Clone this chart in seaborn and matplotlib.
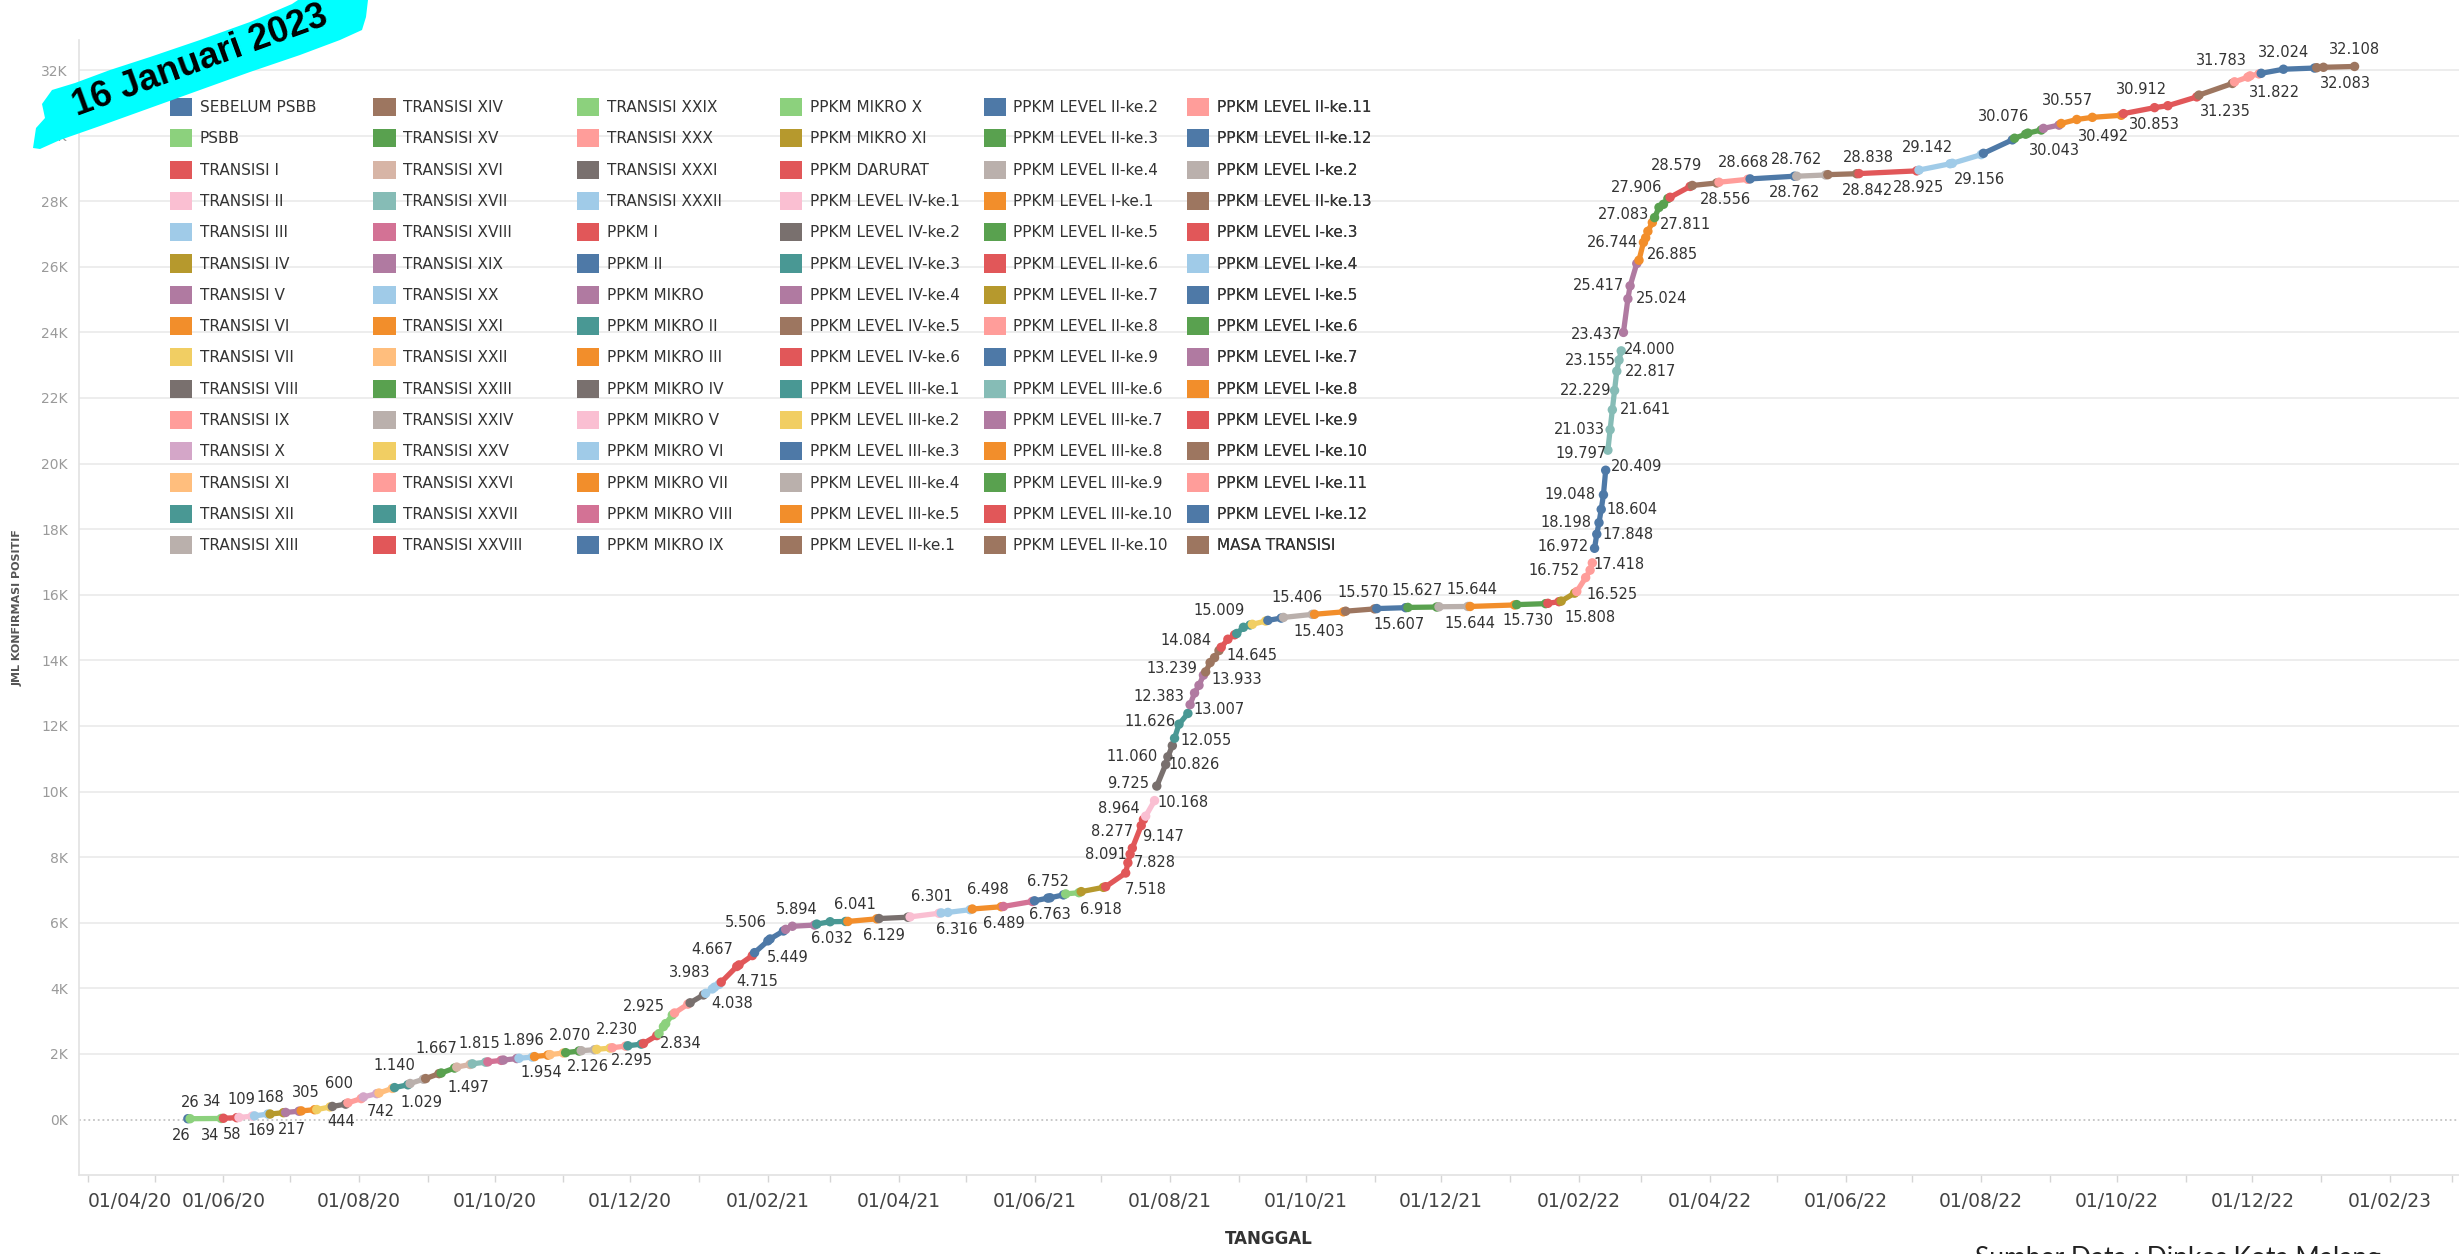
import matplotlib
matplotlib.use("agg")
import matplotlib.pyplot as plt
import matplotlib.dates as mdates
from matplotlib.patches import Patch, Polygon
from matplotlib.ticker import MultipleLocator, FuncFormatter
import seaborn as sns
import pandas as pd

# phases of restrictions (legend order = chronological order)
phases = [
    "SEBELUM PSBB", "PSBB",
    "TRANSISI I", "TRANSISI II", "TRANSISI III", "TRANSISI IV", "TRANSISI V", "TRANSISI VI",
    "TRANSISI VII", "TRANSISI VIII", "TRANSISI IX", "TRANSISI X", "TRANSISI XI", "TRANSISI XII",
    "TRANSISI XIII", "TRANSISI XIV", "TRANSISI XV", "TRANSISI XVI", "TRANSISI XVII", "TRANSISI XVIII",
    "TRANSISI XIX", "TRANSISI XX", "TRANSISI XXI", "TRANSISI XXII", "TRANSISI XXIII", "TRANSISI XXIV",
    "TRANSISI XXV", "TRANSISI XXVI", "TRANSISI XXVII", "TRANSISI XXVIII", "TRANSISI XXIX", "TRANSISI XXX",
    "TRANSISI XXXI", "TRANSISI XXXII",
    "PPKM I", "PPKM II", "PPKM MIKRO", "PPKM MIKRO II", "PPKM MIKRO III", "PPKM MIKRO IV",
    "PPKM MIKRO V", "PPKM MIKRO VI", "PPKM MIKRO VII", "PPKM MIKRO VIII", "PPKM MIKRO IX",
    "PPKM MIKRO X", "PPKM MIKRO XI", "PPKM DARURAT",
    "PPKM LEVEL IV-ke.1", "PPKM LEVEL IV-ke.2", "PPKM LEVEL IV-ke.3", "PPKM LEVEL IV-ke.4",
    "PPKM LEVEL IV-ke.5", "PPKM LEVEL IV-ke.6",
    "PPKM LEVEL III-ke.1", "PPKM LEVEL III-ke.2", "PPKM LEVEL III-ke.3", "PPKM LEVEL III-ke.4",
    "PPKM LEVEL III-ke.5",
    "PPKM LEVEL II-ke.1", "PPKM LEVEL II-ke.2", "PPKM LEVEL II-ke.3", "PPKM LEVEL II-ke.4",
    "PPKM LEVEL I-ke.1",
    "PPKM LEVEL II-ke.5", "PPKM LEVEL II-ke.6", "PPKM LEVEL II-ke.7", "PPKM LEVEL II-ke.8",
    "PPKM LEVEL II-ke.9",
    "PPKM LEVEL III-ke.6", "PPKM LEVEL III-ke.7", "PPKM LEVEL III-ke.8", "PPKM LEVEL III-ke.9",
    "PPKM LEVEL III-ke.10",
    "PPKM LEVEL II-ke.10", "PPKM LEVEL II-ke.11", "PPKM LEVEL II-ke.12", "PPKM LEVEL I-ke.2",
    "PPKM LEVEL II-ke.13",
    "PPKM LEVEL I-ke.3", "PPKM LEVEL I-ke.4", "PPKM LEVEL I-ke.5", "PPKM LEVEL I-ke.6",
    "PPKM LEVEL I-ke.7", "PPKM LEVEL I-ke.8", "PPKM LEVEL I-ke.9", "PPKM LEVEL I-ke.10",
    "PPKM LEVEL I-ke.11", "PPKM LEVEL I-ke.12",
    "MASA TRANSISI",
]

phase_starts = [
    "2020-05-16", "2020-05-17",
    "2020-06-01", "2020-06-08", "2020-06-15", "2020-06-22", "2020-06-29", "2020-07-06",
    "2020-07-13", "2020-07-20", "2020-07-27", "2020-08-03", "2020-08-10", "2020-08-17",
    "2020-08-24", "2020-08-31", "2020-09-07", "2020-09-14", "2020-09-21", "2020-09-28",
    "2020-10-05", "2020-10-12", "2020-10-19", "2020-10-26", "2020-11-02", "2020-11-09",
    "2020-11-16", "2020-11-23", "2020-11-30", "2020-12-07", "2020-12-14", "2020-12-21",
    "2020-12-28", "2021-01-04",
    "2021-01-11", "2021-01-26", "2021-02-09", "2021-02-23", "2021-03-09", "2021-03-23",
    "2021-04-06", "2021-04-20", "2021-05-04", "2021-05-18", "2021-06-01",
    "2021-06-15", "2021-06-22", "2021-07-03",
    "2021-07-21", "2021-07-26", "2021-08-03", "2021-08-10",
    "2021-08-17", "2021-08-24",
    "2021-08-31", "2021-09-07", "2021-09-14", "2021-09-21",
    "2021-10-05",
    "2021-10-19", "2021-11-02", "2021-11-16", "2021-11-30",
    "2021-12-14",
    "2022-01-04", "2022-01-18", "2022-01-24", "2022-01-31",
    "2022-02-08",
    "2022-02-14", "2022-02-21", "2022-02-28", "2022-03-07",
    "2022-03-14",
    "2022-03-24", "2022-04-05", "2022-04-19", "2022-05-10",
    "2022-05-24",
    "2022-06-07", "2022-07-04", "2022-08-02", "2022-08-16",
    "2022-08-29", "2022-09-06", "2022-10-04", "2022-11-07",
    "2022-11-23", "2022-12-05",
    "2022-12-30",
]

# cumulative confirmed cases (date, total)
cases_2020 = [
    ("2020-05-16", 26),
    ("2020-05-17", 26), ("2020-05-31", 34),
    ("2020-06-01", 40), ("2020-06-07", 58),
    ("2020-06-08", 65), ("2020-06-14", 105),
    ("2020-06-15", 112), ("2020-06-21", 168),
    ("2020-06-22", 169), ("2020-06-28", 210),
    ("2020-06-29", 217), ("2020-07-05", 255),
    ("2020-07-06", 265), ("2020-07-12", 300),
    ("2020-07-13", 305), ("2020-07-19", 385),
    ("2020-07-20", 400), ("2020-07-26", 470),
    ("2020-07-27", 510), ("2020-08-02", 640),
    ("2020-08-03", 690), ("2020-08-09", 790),
    ("2020-08-10", 810), ("2020-08-16", 950),
    ("2020-08-17", 975), ("2020-08-23", 1060),
    ("2020-08-24", 1100), ("2020-08-30", 1230),
    ("2020-08-31", 1250), ("2020-09-06", 1400),
    ("2020-09-07", 1420), ("2020-09-13", 1570),
    ("2020-09-14", 1600), ("2020-09-20", 1680),
    ("2020-09-21", 1700), ("2020-09-27", 1750),
    ("2020-09-28", 1760), ("2020-10-04", 1805),
    ("2020-10-05", 1815), ("2020-10-11", 1860),
    ("2020-10-12", 1870), ("2020-10-18", 1905),
    ("2020-10-19", 1920), ("2020-10-25", 1965),
    ("2020-10-26", 1980), ("2020-11-01", 2030),
    ("2020-11-02", 2040), ("2020-11-08", 2090),
    ("2020-11-09", 2100), ("2020-11-15", 2130),
    ("2020-11-16", 2140), ("2020-11-22", 2180),
    ("2020-11-23", 2190), ("2020-11-29", 2240),
    ("2020-11-30", 2250), ("2020-12-06", 2300),
    ("2020-12-07", 2320), ("2020-12-13", 2560),
    ("2020-12-14", 2620), ("2020-12-16", 2834), ("2020-12-17", 2925), ("2020-12-20", 3190),
    ("2020-12-21", 3250), ("2020-12-27", 3520),
    ("2020-12-28", 3560),
]

cases_2021 = [
    ("2021-01-03", 3800),
    ("2021-01-04", 3850), ("2021-01-07", 3983), ("2021-01-08", 4038), ("2021-01-10", 4120),
    ("2021-01-11", 4190), ("2021-01-18", 4667), ("2021-01-19", 4715), ("2021-01-25", 5000),
    ("2021-01-26", 5090), ("2021-02-01", 5449), ("2021-02-02", 5506), ("2021-02-08", 5750),
    ("2021-02-09", 5800), ("2021-02-12", 5894), ("2021-02-22", 5930),
    ("2021-02-23", 5960), ("2021-03-01", 6032), ("2021-03-08", 6040),
    ("2021-03-09", 6041), ("2021-03-22", 6120),
    ("2021-03-23", 6129), ("2021-04-05", 6170),
    ("2021-04-06", 6180), ("2021-04-19", 6290),
    ("2021-04-20", 6301), ("2021-04-23", 6316), ("2021-05-03", 6400),
    ("2021-05-04", 6420), ("2021-05-17", 6489),
    ("2021-05-18", 6498), ("2021-05-31", 6650),
    ("2021-06-01", 6670), ("2021-06-07", 6752), ("2021-06-08", 6763), ("2021-06-14", 6850),
    ("2021-06-15", 6880), ("2021-06-21", 6918),
    ("2021-06-22", 6950), ("2021-07-02", 7080),
    ("2021-07-03", 7100), ("2021-07-12", 7518), ("2021-07-13", 7828), ("2021-07-14", 8091),
    ("2021-07-15", 8277), ("2021-07-19", 8964), ("2021-07-20", 9147),
    ("2021-07-21", 9250), ("2021-07-25", 9725),
    ("2021-07-26", 10168), ("2021-07-30", 10826), ("2021-07-31", 11060), ("2021-08-02", 11400),
    ("2021-08-03", 11626), ("2021-08-05", 12055), ("2021-08-09", 12383),
    ("2021-08-10", 12650), ("2021-08-12", 13007), ("2021-08-14", 13239), ("2021-08-16", 13550),
    ("2021-08-17", 13650), ("2021-08-19", 13933), ("2021-08-21", 14084), ("2021-08-23", 14300),
    ("2021-08-24", 14400), ("2021-08-27", 14645), ("2021-08-30", 14780),
    ("2021-08-31", 14820), ("2021-09-03", 15009), ("2021-09-06", 15080),
    ("2021-09-07", 15100), ("2021-09-13", 15200),
    ("2021-09-14", 15220), ("2021-09-20", 15290),
    ("2021-09-21", 15310), ("2021-10-04", 15403),
    ("2021-10-05", 15406), ("2021-10-18", 15480),
    ("2021-10-19", 15500), ("2021-11-01", 15570),
    ("2021-11-02", 15580), ("2021-11-15", 15607),
    ("2021-11-16", 15615), ("2021-11-29", 15627),
    ("2021-11-30", 15635), ("2021-12-13", 15644),
    ("2021-12-14", 15644),
]

cases_2022 = [
    ("2022-01-03", 15690),
    ("2022-01-04", 15700), ("2022-01-17", 15730),
    ("2022-01-18", 15740), ("2022-01-23", 15790),
    ("2022-01-24", 15808), ("2022-01-30", 16050),
    ("2022-01-31", 16100), ("2022-02-04", 16525), ("2022-02-06", 16752), ("2022-02-07", 16972),
    ("2022-02-08", 17418), ("2022-02-09", 17848), ("2022-02-10", 18198), ("2022-02-11", 18604),
    ("2022-02-12", 19048), ("2022-02-13", 19797),
    ("2022-02-14", 20409), ("2022-02-15", 21033), ("2022-02-16", 21641), ("2022-02-17", 22229),
    ("2022-02-18", 22817), ("2022-02-19", 23155), ("2022-02-20", 23437),
    ("2022-02-21", 24000), ("2022-02-23", 25024), ("2022-02-24", 25417), ("2022-02-27", 26100),
    ("2022-02-28", 26200), ("2022-03-02", 26744), ("2022-03-03", 26885), ("2022-03-04", 27083),
    ("2022-03-06", 27350),
    ("2022-03-07", 27500), ("2022-03-09", 27811), ("2022-03-11", 27906), ("2022-03-13", 28080),
    ("2022-03-14", 28120), ("2022-03-23", 28450),
    ("2022-03-24", 28480), ("2022-04-04", 28556),
    ("2022-04-05", 28579), ("2022-04-18", 28668),
    ("2022-04-19", 28680), ("2022-05-09", 28762),
    ("2022-05-10", 28762), ("2022-05-23", 28800),
    ("2022-05-24", 28810), ("2022-06-06", 28838),
    ("2022-06-07", 28842), ("2022-07-03", 28925),
    ("2022-07-04", 28950), ("2022-07-18", 29142), ("2022-07-19", 29156), ("2022-08-01", 29420),
    ("2022-08-02", 29460), ("2022-08-15", 29870),
    ("2022-08-16", 29920), ("2022-08-21", 30043), ("2022-08-22", 30076), ("2022-08-28", 30170),
    ("2022-08-29", 30220), ("2022-09-05", 30320),
    ("2022-09-06", 30370), ("2022-09-13", 30492), ("2022-09-20", 30557), ("2022-10-03", 30620),
    ("2022-10-04", 30670), ("2022-10-18", 30853), ("2022-10-24", 30912), ("2022-11-06", 31180),
    ("2022-11-07", 31235), ("2022-11-22", 31590),
    ("2022-11-23", 31640), ("2022-11-29", 31783), ("2022-11-30", 31822), ("2022-12-04", 31880),
    ("2022-12-05", 31900), ("2022-12-15", 32024), ("2022-12-29", 32060),
    ("2022-12-30", 32070), ("2023-01-02", 32083), ("2023-01-16", 32108),
]

# value labels shown on the chart: (value, date of label, a=above / b=below / m=beside)
point_labels = [
    (26, "2020-05-17", "a"), (26, "2020-05-13", "b"), (34, "2020-05-27", "a"), (34, "2020-05-26", "b"),
    (58, "2020-06-05", "b"), (109, "2020-06-09", "a"), (169, "2020-06-18", "b"), (168, "2020-06-22", "a"),
    (217, "2020-07-02", "b"), (305, "2020-07-08", "a"), (600, "2020-07-23", "a"), (444, "2020-07-24", "b"),
    (742, "2020-08-11", "b"), (1140, "2020-08-17", "a"), (1029, "2020-08-29", "b"), (1667, "2020-09-05", "a"),
    (1497, "2020-09-19", "b"), (1815, "2020-09-24", "a"), (1896, "2020-10-14", "a"), (1954, "2020-10-22", "b"),
    (2070, "2020-11-04", "a"), (2126, "2020-11-12", "b"), (2230, "2020-11-25", "a"), (2295, "2020-12-02", "b"),
    (2925, "2020-12-07", "a"), (2834, "2020-12-24", "b"), (3983, "2020-12-28", "a"), (4038, "2021-01-16", "b"),
    (4667, "2021-01-07", "a"), (4715, "2021-01-27", "b"), (5506, "2021-01-22", "a"), (5449, "2021-02-10", "b"),
    (5894, "2021-02-14", "a"), (6032, "2021-03-02", "b"), (6041, "2021-03-12", "a"), (6129, "2021-03-25", "b"),
    (6301, "2021-04-16", "a"), (6316, "2021-04-27", "b"), (6498, "2021-05-11", "a"), (6489, "2021-05-18", "b"),
    (6752, "2021-06-07", "a"), (6763, "2021-06-08", "b"), (6918, "2021-07-01", "b"), (7518, "2021-07-21", "b"),
    (7828, "2021-07-25", "m"), (8091, "2021-07-03", "m"), (8277, "2021-07-06", "a"), (9147, "2021-07-29", "b"),
    (8964, "2021-07-09", "a"), (10168, "2021-08-07", "b"), (9725, "2021-07-13", "a"), (10826, "2021-08-12", "m"),
    (11060, "2021-07-15", "m"), (12055, "2021-08-17", "b"), (11626, "2021-07-23", "a"), (12383, "2021-07-27", "a"),
    (13007, "2021-08-23", "b"), (13239, "2021-08-02", "a"), (13933, "2021-08-31", "b"), (14084, "2021-08-08", "a"),
    (14645, "2021-09-07", "b"), (15009, "2021-08-23", "a"), (15406, "2021-09-27", "a"), (15403, "2021-10-07", "b"),
    (15570, "2021-10-27", "a"), (15607, "2021-11-12", "b"), (15627, "2021-11-20", "a"), (15644, "2021-12-15", "a"),
    (15644, "2021-12-14", "b"), (15730, "2022-01-09", "b"), (15808, "2022-02-06", "b"), (16525, "2022-02-16", "b"),
    (16752, "2022-01-21", "m"), (17418, "2022-02-19", "b"), (16972, "2022-01-25", "a"), (19048, "2022-01-28", "m"),
    (18604, "2022-02-25", "m"), (18198, "2022-01-26", "m"), (17848, "2022-02-23", "m"), (19797, "2022-02-02", "a"),
    (20409, "2022-02-27", "b"), (21033, "2022-02-01", "m"), (21641, "2022-03-03", "m"), (22229, "2022-02-04", "m"),
    (22817, "2022-03-05", "m"), (23155, "2022-02-06", "m"), (24000, "2022-03-05", "b"), (23437, "2022-02-09", "a"),
    (25024, "2022-03-10", "m"), (25417, "2022-02-10", "m"), (26885, "2022-03-15", "b"), (26744, "2022-02-16", "m"),
    (27811, "2022-03-21", "b"), (27083, "2022-02-21", "a"), (27906, "2022-02-27", "a"), (28579, "2022-03-17", "a"),
    (28556, "2022-04-08", "b"), (28668, "2022-04-16", "a"), (28762, "2022-05-10", "a"), (28762, "2022-05-09", "b"),
    (28838, "2022-06-11", "a"), (28842, "2022-06-11", "b"), (29142, "2022-07-08", "a"), (28925, "2022-07-04", "b"),
    (29156, "2022-07-31", "b"), (30076, "2022-08-11", "a"), (30043, "2022-09-03", "b"), (30557, "2022-09-09", "a"),
    (30492, "2022-09-25", "b"), (30912, "2022-10-12", "a"), (30853, "2022-10-18", "b"), (31235, "2022-11-19", "b"),
    (31783, "2022-11-17", "a"), (32024, "2022-12-15", "a"), (31822, "2022-12-11", "b"), (32108, "2023-01-16", "a"),
    (32083, "2023-01-12", "b"),
]

# Tableau 20 colours, assigned to phases in the same way as the original dashboard
TABLEAU = {
    "b": "#4E79A7", "lb": "#A0CBE8", "o": "#F28E2B", "lo": "#FFBE7D", "g": "#59A14F",
    "lg": "#8CD17D", "ol": "#B6992D", "y": "#F1CE63", "t": "#499894", "lt": "#86BCB6",
    "r": "#E15759", "pk": "#FF9D9A", "gr": "#79706E", "lgr": "#BAB0AC", "m": "#D37295",
    "lp": "#FABFD2", "pu": "#B07AA1", "lpu": "#D4A6C8", "br": "#9D7660", "lbr": "#D7B5A6",
}
phase_colors = [
    "b", "lg", "r", "lp", "lb", "ol", "pu", "o", "y", "gr", "pk", "lpu", "lo", "t", "lgr",
    "br", "g", "lbr", "lt", "m", "pu", "lb", "o", "lo", "g", "lgr", "y", "pk", "t", "r",
    "lg", "pk", "gr", "lb", "r", "b", "pu", "t", "o", "gr", "lp", "lb", "o", "m", "b",
    "lg", "ol", "r", "lp", "gr", "t", "pu", "br", "r", "t", "y", "b", "lgr", "o", "br",
    "b", "g", "lgr", "o", "g", "r", "ol", "pk", "b", "lt", "pu", "o", "g", "r", "br",
    "pk", "b", "lgr", "br", "r", "lb", "b", "g", "pu", "o", "r", "br", "pk", "b", "br",
]

W, H = 2459, 1254

sns.set_theme(style="white")
plt.rcParams["font.family"] = ["DejaVu Sans"]

fig = plt.figure(figsize=(W / 100, H / 100), dpi=100)
ax = fig.add_axes([79 / W, 1 - 1175 / H, 1 - 79 / W, (1175 - 40) / H])

cases = pd.DataFrame(cases_2020 + cases_2021 + cases_2022, columns=["date", "value"])
cases["date"] = pd.to_datetime(cases["date"])
calendar = pd.DataFrame({"phase": phases, "start": pd.to_datetime(phase_starts)})
cases = pd.merge_asof(cases.sort_values("date"), calendar, left_on="date", right_on="start")
palette = dict(zip(phases, [TABLEAU[c] for c in phase_colors]))

# horizontal grid, dotted zero line
ax.yaxis.set_major_locator(MultipleLocator(2000))
ax.yaxis.set_major_formatter(FuncFormatter(lambda v, p: f"{v / 1000:.0f}K"))
ax.grid(axis="y", color="#EDEDED", linewidth=1.4)
ax.grid(axis="x", visible=False)
ax.set_axisbelow(True)
ax.axhline(0, color="white", linewidth=2.5, zorder=1)
ax.axhline(0, color="#C4C4C4", linewidth=1.3, linestyle=(0, (1, 1.6)), zorder=1)

sns.lineplot(data=cases, x="date", y="value", hue="phase", hue_order=phases, palette=palette,
             estimator=None, linewidth=3.8, legend=False, ax=ax, zorder=2,
             solid_capstyle="round")
sns.scatterplot(data=cases, x="date", y="value", hue="phase", hue_order=phases, palette=palette,
                s=46, linewidth=0, legend=False, ax=ax, zorder=3)

# value labels
offsets = {"a": 12, "b": -12, "m": 0}
for value, day, side in point_labels:
    ax.annotate(f"{value:,}".replace(",", "."), xy=(mdates.date2num(pd.Timestamp(day)), value),
                xytext=(0, offsets[side]), textcoords="offset points", ha="center", va="center",
                fontsize=10.5, color="#333333", zorder=4)

ax.set_xlim(mdates.date2num(pd.Timestamp("2020-03-28")), mdates.date2num(pd.Timestamp("2023-03-04")))
ax.set_ylim(-1690, 32915)
ax.xaxis.set_major_locator(mdates.MonthLocator(bymonth=[2, 4, 6, 8, 10, 12]))
ax.xaxis.set_minor_locator(mdates.MonthLocator())
ax.xaxis.set_major_formatter(mdates.DateFormatter("%d/%m/%y"))

ax.tick_params(axis="x", which="both", bottom=True, length=5, width=1, color="#D5D5D5",
               pad=7, labelsize=13.5, labelcolor="#444444")
ax.tick_params(axis="y", length=0, pad=8, labelsize=10, labelcolor="#9A9A9A")
for side in ["top", "right"]:
    ax.spines[side].set_visible(False)
for side in ["left", "bottom"]:
    ax.spines[side].set_color("#E2E2E2")
    ax.spines[side].set_linewidth(1.2)

ax.set_xlabel("TANGGAL", fontsize=12, fontweight="bold", color="#333333", labelpad=14)
ax.set_ylabel("JML KONFIRMASI POSITIF", fontsize=8, fontweight="bold", color="#555555", labelpad=13)

# legend: six columns of fifteen colour swatches
rows = 15
for col in range(6):
    names = phases[col * rows:(col + 1) * rows]
    handles = [Patch(facecolor=palette[n], edgecolor="none") for n in names]
    leg = ax.legend(handles, names, loc="upper left",
                    bbox_to_anchor=((170 + col * 203.4) / W, 1 - 98 / H),
                    bbox_transform=fig.transFigure, frameon=False, fontsize=11,
                    labelcolor="#333333", handlelength=1.45, handleheight=1.45,
                    handletextpad=0.5, labelspacing=0.86, borderpad=0, borderaxespad=0)
    leg.set_zorder(5)
    ax.add_artist(leg)

fig.canvas.draw()
first = ax.get_xticklabels()[0]
first.set_horizontalalignment("left")

# date banner
banner = [(33, 148), (36, 128), (45, 118), (42, 104), (52, 90), (75, 83), (110, 70), (150, 57),
          (200, 40), (250, 22), (292, 4), (298, 0), (368, 0), (366, 17), (362, 30), (340, 40),
          (300, 55), (250, 72), (200, 90), (150, 108), (100, 126), (60, 140), (40, 149)]
fig.add_artist(Polygon([(x / W, 1 - y / H) for x, y in banner], closed=True,
                       transform=fig.transFigure, facecolor="#00FFFF", edgecolor="none", zorder=10))
fig.text(200 / W, 1 - 61 / H, "16 Januari 2023", rotation=20, rotation_mode="anchor",
         fontsize=26, fontweight="bold", family=["Liberation Sans", "DejaVu Sans"],
         ha="center", va="center", color="black", zorder=11)

fig.text(1975 / W, 1 - 1246 / H, "Sumber Data : Dinkes Kota Malang", fontsize=19,
         family=["Lato", "DejaVu Sans"], color="#222222", ha="left", va="top")

# save result
fig.savefig("out.png", dpi=100)
